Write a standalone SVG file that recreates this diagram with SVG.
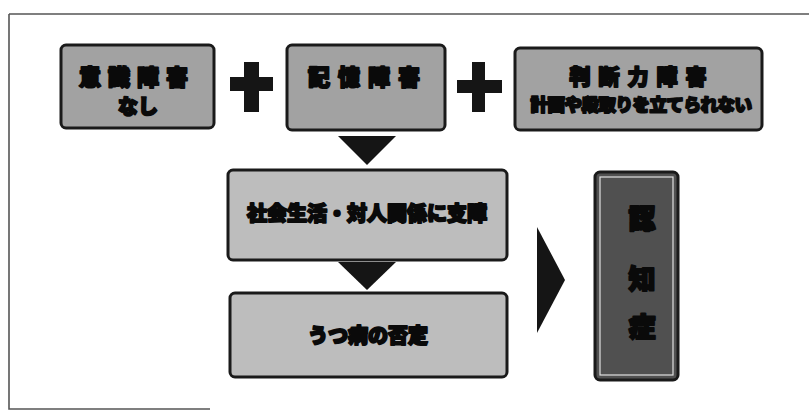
<svg xmlns="http://www.w3.org/2000/svg" width="809" height="411" viewBox="0 0 809 411">
<style>
.box{stroke:#1a1a1a;stroke-width:3}
.mid{fill:#a2a2a2}
.light{fill:#bdbdbd}
.dark{fill:#505050}
.t{font-family:"Noto Sans CJK JP","Noto Sans CJK SC",sans-serif;font-weight:900;fill:#0a0a0a;stroke:#0a0a0a;stroke-width:2;stroke-linejoin:round;text-anchor:middle}
.sym{fill:#151515}
</style>
<rect width="809" height="411" fill="#ffffff"/>
<path d="M9,14 H809 M9,14 V409 H210" fill="none" stroke="#555555" stroke-width="1.6"/>
<g id="n1">
<rect class="box mid" x="61" y="45" width="153" height="83" rx="5"/>
<text class="t" x="137" y="85" font-size="22" letter-spacing="7">意識障害</text>
<text class="t" x="138" y="114" font-size="20">なし</text>
</g>
<g id="n2">
<rect class="box mid" x="287" y="45" width="158" height="85" rx="5"/>
<text class="t" x="368" y="85" font-size="22" letter-spacing="8">記憶障害</text>
</g>
<g id="n3">
<rect class="box mid" x="515" y="48" width="247" height="82" rx="5"/>
<text class="t" x="642" y="84" font-size="21" letter-spacing="8">判断力障害</text>
<text class="t" x="641" y="111" font-size="17.5" letter-spacing="-0.5">計画や段取りを立てられない</text>
</g>
<g id="n4">
<rect class="box light" x="228" y="170" width="279" height="90" rx="5"/>
<text class="t" x="367" y="221" font-size="20">社会生活・対人関係に支障</text>
</g>
<g id="n5">
<rect class="box light" x="230" y="293" width="277" height="84" rx="5"/>
<text class="t" x="368" y="343" font-size="20">うつ病の否定</text>
</g>
<g id="n6">
<rect class="box dark" x="595" y="172" width="83" height="208" rx="5"/>
<rect x="600" y="177" width="73" height="198" fill="none" stroke="#e0e0e0" stroke-width="1.2"/>
<text class="t" x="642" y="229" font-size="27">認</text>
<text class="t" x="642" y="289" font-size="27">知</text>
<text class="t" x="642" y="337" font-size="27">症</text>
</g>
<g id="connectors">
<path class="sym" d="M230,77 H273 V91 H230 Z M244,62 H259 V112 H244 Z"/>
<path class="sym" d="M457,80 H502 V93 H457 Z M472,62 H485 V112 H472 Z"/>
<polygon class="sym" points="338,136 396,136 367,165"/>
<polygon class="sym" points="338,262 396,262 367,290"/>
<polygon class="sym" points="537,227 565,280 537,333"/>
</g>
</svg>
